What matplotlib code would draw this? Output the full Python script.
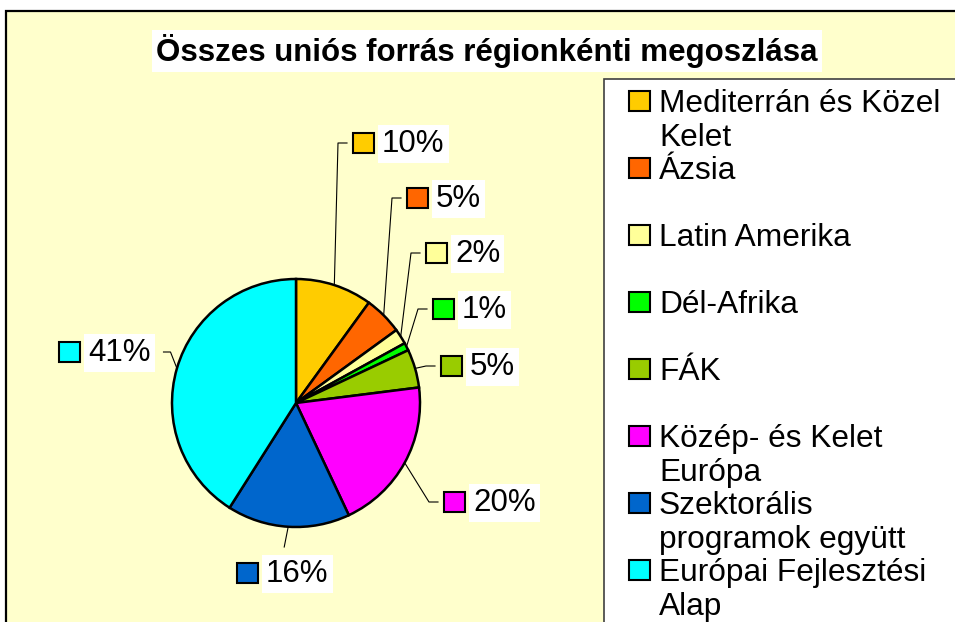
import matplotlib.pyplot as plt
from matplotlib.patches import Rectangle
import numpy as np

plt.rcParams['font.family'] = ['Liberation Sans', 'DejaVu Sans']

# adatok
regions = ['Mediterrán és Közel\nKelet', 'Ázsia', 'Latin Amerika', 'Dél-Afrika', 'FÁK',
           'Közép- és Kelet\nEurópa', 'Szektorális\nprogramok együtt', 'Európai Fejlesztési\nAlap']
shares = [10, 5, 2, 1, 5, 20, 16, 41]
colors = ['#FFCC00', '#FF6600', '#FFFF99', '#00FF00', '#99CC00', '#FF00FF', '#0066CC', '#00FFFF']

# címkék helye pixelben (négyzet bal széle, középvonal)
label_pos = [(353, 143), (407, 198), (426, 253), (433, 309), (441, 366),
             (444, 502), (237, 573), (59, 352)]

W, H = 955, 622
fig = plt.figure(figsize=(W / 100, H / 100), dpi=100)
ax = fig.add_axes([0, 0, 1, 1])

cx, cy, r = 296, 403, 124
ax.pie(shares, colors=colors, startangle=-90, counterclock=True, center=(cx, cy), radius=r,
       wedgeprops=dict(edgecolor='black', linewidth=1.8))
ax.set_xlim(0, W)
ax.set_ylim(H, 0)
ax.set_aspect('auto')
ax.axis('off')

# diagram háttér
ax.add_patch(Rectangle((6, 11), W, H, facecolor='#FFFFCC', edgecolor='black', lw=1.6, zorder=-5))

# cím
ax.text(487, 51, 'Összes uniós forrás régionkénti megoszlása', ha='center', va='center',
        fontsize=22.5, fontweight='bold',
        bbox=dict(facecolor='white', edgecolor='none', pad=3))

# százalék címkék + vezetővonalak
fig.canvas.draw()
renderer = fig.canvas.get_renderer()
cum = np.cumsum([0] + shares)
for i, v in enumerate(shares):
    mid = np.deg2rad(-90 + 360 * (cum[i] + v / 2) / 100)
    ex, ey = cx + r * np.cos(mid), cy + r * np.sin(mid)
    sx, sy = label_pos[i]
    ax.add_patch(Rectangle((sx, sy - 10), 21, 20, facecolor=colors[i], edgecolor='black',
                           lw=1.5, zorder=5))
    t = ax.text(sx + 29, sy + 1, f'{v}%', ha='left', va='center', fontsize=22.5, zorder=4,
                bbox=dict(facecolor='white', edgecolor='none', pad=3))
    if np.cos(mid) > 0.25:
        xs, ys = [ex, sx - 15, sx - 6], [ey, sy, sy]
    elif np.cos(mid) < -0.25:
        bb = t.get_window_extent(renderer)
        xr = bb.x1 + 3
        xs, ys = [ex, xr + 17, xr + 10], [ey, sy, sy]
    else:
        xs, ys = [ex, ex - 4], [ey, sy - 26]
    ax.plot(xs, ys, color='black', lw=0.8, zorder=3)

# jelmagyarázat
ax.add_patch(Rectangle((604, 79), W, H, facecolor='white', edgecolor='#404040', lw=1.2, zorder=6))
for i, name in enumerate(regions):
    base = 112 + i * 67
    ax.add_patch(Rectangle((629, base - 21), 21, 20, facecolor=colors[i], edgecolor='black',
                           lw=1.5, zorder=7))
    for j, line in enumerate(name.split('\n')):
        ax.text(659, base + j * 34, line, ha='left', va='baseline', fontsize=22.8, zorder=7)

plt.savefig('out.png', dpi=100)
